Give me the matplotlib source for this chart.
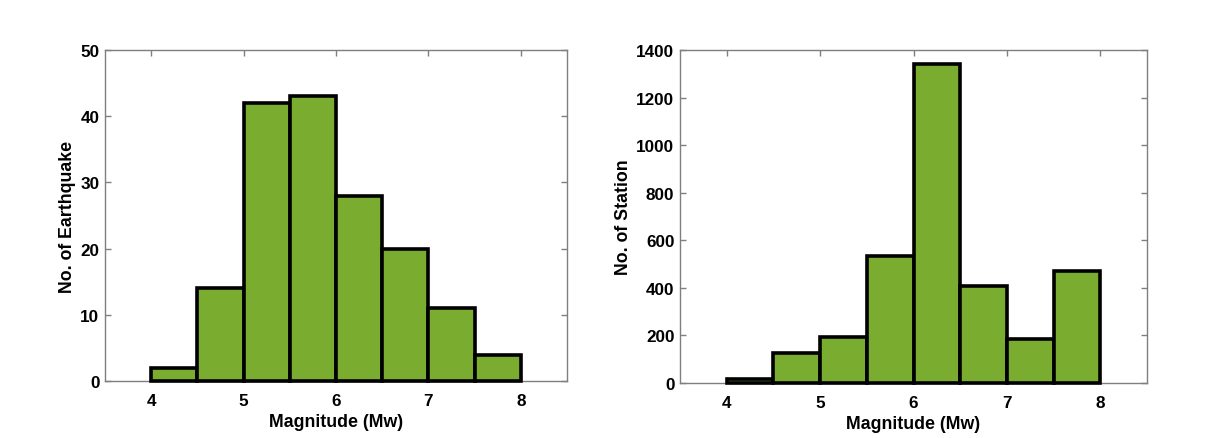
import numpy as np
import matplotlib
matplotlib.use('Agg')
import matplotlib.pyplot as plt

plt.rcParams['font.family'] = ['Liberation Sans', 'DejaVu Sans']
plt.rcParams['font.weight'] = 'bold'

# bin edges (magnitude) shared by both histograms
bin_left = [4.0, 4.5, 5.0, 5.5, 6.0, 6.5, 7.0, 7.5]
bin_width = 0.5

# counts
quake_counts = [2, 14, 42, 43, 28, 20, 11, 4]
station_counts = [15, 125, 192, 536, 1342, 407, 183, 470]

x_ticks = [4, 5, 6, 7, 8]
quake_yticks = [0, 10, 20, 30, 40, 50]
station_yticks = [0, 200, 400, 600, 800, 1000, 1200, 1400]

bar_color = '#7aad2f'
spine_color = '#7f7f7f'

W, H = 1220, 439
fig = plt.figure(figsize=(W / 100, H / 100), dpi=100)


def make_axes(x0, x1, y0, y1):
    return fig.add_axes([x0 / W, 1 - y1 / H, (x1 - x0) / W, (y1 - y0) / H])


def style(ax, yticks, ylabel):
    ax.set_xlim(3.5, 8.5)
    ax.set_ylim(yticks[0], yticks[-1])
    ax.set_xticks(x_ticks)
    ax.set_yticks(yticks)
    for sp in ax.spines.values():
        sp.set_color(spine_color)
        sp.set_linewidth(1.0)
    ax.tick_params(direction='in', length=4, width=1, color=spine_color,
                   top=True, right=True, labelsize=12.3, labelcolor='black')
    ax.tick_params(axis='x', pad=8.5)
    ax.tick_params(axis='y', pad=4)
    for lab in ax.get_xticklabels() + ax.get_yticklabels():
        lab.set_fontweight('bold')
    ax.set_xlabel('Magnitude (Mw)', fontsize=12.8, fontweight='bold', labelpad=3.5)
    ax.set_ylabel(ylabel, fontsize=12.8, fontweight='bold', labelpad=3)


ax1 = make_axes(105, 567, 51, 382)
ax1.bar(bin_left, quake_counts, width=bin_width, align='edge', color=bar_color,
        edgecolor='black', linewidth=2.6, zorder=3, clip_on=False)
style(ax1, quake_yticks, 'No. of Earthquake')

ax2 = make_axes(680, 1147, 51, 384)
ax2.bar(bin_left, station_counts, width=bin_width, align='edge', color=bar_color,
        edgecolor='black', linewidth=2.6, zorder=3, clip_on=False)
style(ax2, station_yticks, 'No. of Station')

fig.savefig('out.png', dpi=100)
